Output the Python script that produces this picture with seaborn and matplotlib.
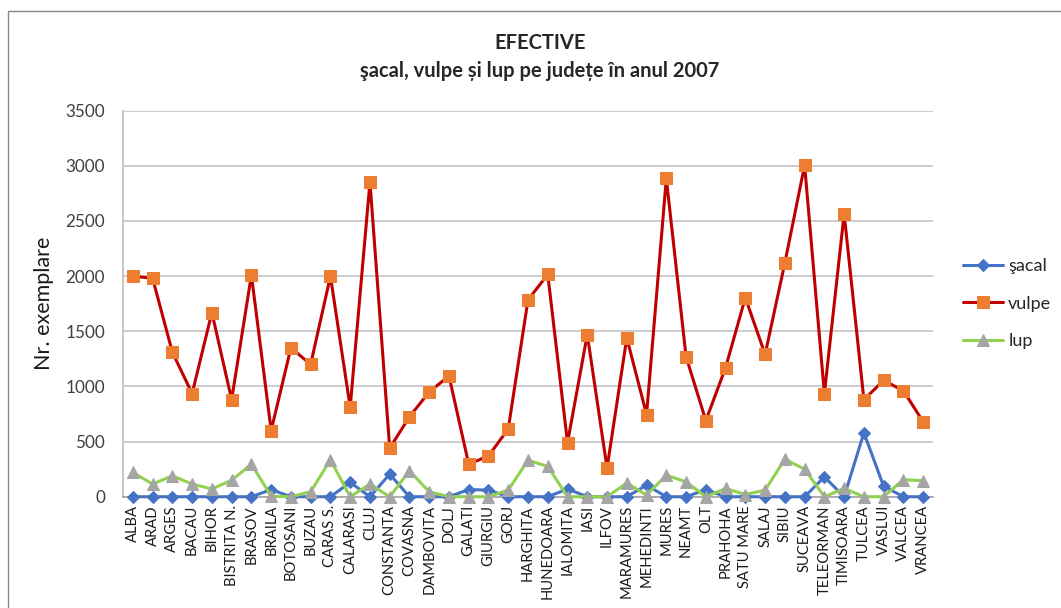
import pandas as pd
import seaborn as sns
import matplotlib.pyplot as plt
from matplotlib.patches import Rectangle

judete = ['ALBA', 'ARAD', 'ARGES', 'BACAU', 'BIHOR', 'BISTRITA N.', 'BRASOV',
          'BRAILA', 'BOTOSANI', 'BUZAU', 'CARAS S.', 'CALARASI', 'CLUJ',
          'CONSTANTA', 'COVASNA', 'DAMBOVITA', 'DOLJ', 'GALATI', 'GIURGIU',
          'GORJ', 'HARGHITA', 'HUNEDOARA', 'IALOMITA', 'IASI', 'ILFOV',
          'MARAMURES', 'MEHEDINTI', 'MURES', 'NEAMT', 'OLT', 'PRAHOHA',
          'SATU MARE', 'SALAJ', 'SIBIU', 'SUCEAVA', 'TELEORMAN', 'TIMISOARA',
          'TULCEA', 'VASLUI', 'VALCEA', 'VRANCEA']

sacal = [0, 0, 0, 0, 0, 0, 0, 65, 0, 0, 0, 130, 0, 205, 0, 0, 0, 65, 60, 0,
         0, 0, 70, 0, 0, 0, 105, 0, 0, 65, 0, 0, 0, 0, 0, 180, 0, 580, 95, 0, 0]

vulpe = [2000, 1980, 1310, 935, 1670, 880, 2010, 600, 1350, 1200, 2000, 810,
         2855, 440, 725, 950, 1095, 295, 370, 615, 1785, 2015, 490, 1470, 260,
         1440, 745, 2885, 1270, 690, 1170, 1805, 1290, 2120, 3005, 935, 2565,
         880, 1055, 960, 680]

lup = [220, 115, 190, 115, 70, 150, 295, 5, 0, 45, 335, 0, 115, 0, 235, 45,
       0, 0, 0, 60, 330, 275, 0, 0, 0, 125, 15, 195, 135, 0, 75, 20, 60, 340,
       250, 0, 75, 0, 0, 155, 145]

sns.set_theme(style="white")
plt.rcParams['font.family'] = ['Lato', 'DejaVu Sans']

df = pd.DataFrame({'poz': range(len(judete)), 'judet': judete,
                   'sacal': sacal, 'vulpe': vulpe, 'lup': lup})

fig = plt.figure(figsize=(10.61, 6.08), dpi=100)
ax = fig.add_axes([0.1159, 0.183, 0.7635, 0.635])

# chart border like the Excel chart area
fig.patches.append(Rectangle((8 / 1061, -0.05), 1.1, 1.05 - 11 / 608,
                             transform=fig.transFigure, fill=False,
                             edgecolor='#878787', linewidth=1.0))

sns.lineplot(data=df, x='poz', y='sacal', ax=ax, sort=False, color='#4472C4',
             linewidth=2.2, marker='D', markersize=6.5, markerfacecolor='#4472C4',
             markeredgecolor='#4472C4', label='şacal', clip_on=False, zorder=3)
sns.lineplot(data=df, x='poz', y='vulpe', ax=ax, sort=False, color='#C00000',
             linewidth=2.2, marker='s', markersize=8, markerfacecolor='#ED7D31',
             markeredgecolor='#ED7D31', label='vulpe', clip_on=False, zorder=3)
sns.lineplot(data=df, x='poz', y='lup', ax=ax, sort=False, color='#92D050',
             linewidth=2.2, marker='^', markersize=9, markerfacecolor='#A5A5A5',
             markeredgecolor='#A5A5A5', label='lup', clip_on=False, zorder=3)

ax.set_xlim(-0.5, len(judete) - 0.5)
ax.set_ylim(0, 3500)
ax.set_yticks(range(0, 3501, 500))
ax.set_xticks(df['poz'])
ax.set_xticklabels(judete, rotation=90, fontsize=10.6)
ax.tick_params(axis='y', labelsize=12.3, length=0, pad=13, colors='#404040')
ax.tick_params(axis='x', length=0, pad=6, colors='#1a1a1a')
ax.yaxis.grid(True, color='#BFBFBF', linewidth=1.1)
ax.set_axisbelow(True)
for s in ['top', 'right']:
    ax.spines[s].set_visible(False)
ax.spines['left'].set_color('#BFBFBF')
ax.spines['bottom'].set_color('#A6A6A6')
ax.set_xlabel('')
ax.set_ylabel('Nr. exemplare', fontsize=15.5, color='#1a1a1a', labelpad=8)

fig.text(0.509, 0.929, 'EFECTIVE', ha='center', va='center',
         fontsize=14.5, fontweight='bold')
fig.text(0.509, 0.884, 'şacal, vulpe și lup pe județe în anul 2007',
         ha='center', va='center', fontsize=14.5, fontweight='bold')

ax.legend(loc='center left', bbox_to_anchor=(1.037, 0.5), frameon=False,
          fontsize=13, handlelength=2.2, handletextpad=0.3, labelspacing=1.2,
          borderpad=0, borderaxespad=0, numpoints=1)

fig.savefig('out.png', dpi=100)
